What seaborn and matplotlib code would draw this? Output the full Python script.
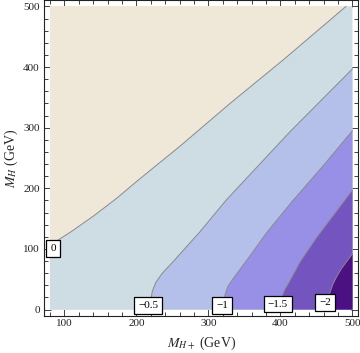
import matplotlib
matplotlib.use('Agg')
import matplotlib.pyplot as plt
from matplotlib.ticker import MultipleLocator
import seaborn as sns

# contour lines (M_H+ , M_H) in GeV
c0_x = [80, 110, 140, 172, 203, 261, 330, 404, 491]
c0_y = [106, 129, 154, 183, 214, 270, 340, 412, 500]
c05_x = [219, 220, 222, 227, 236, 251, 288, 325, 358, 413, 500]
c05_y = [0, 15, 30, 45, 60, 79, 128, 181, 223, 293, 397]
c1_x = [320, 321, 323, 327, 335, 345, 358, 381, 416, 460, 500]
c1_y = [0, 12, 24, 38, 52, 68, 89, 127, 178, 238, 295]
c15_x = [400, 401, 402, 406, 411, 418, 427, 451, 500]
c15_y = [0, 12, 21, 33, 43, 58, 78, 120, 197]
c2_x = [465, 466, 469, 473, 478, 485, 500]
c2_y = [0, 12, 29, 42, 54, 68, 92]

levels = ['0', '\u22120.5', '\u22121', '\u22121.5', '\u22122']
label_x = [84, 216, 319, 396, 462]
label_y = [101, 7, 7, 9, 11]

region_colors = ['#EFE7D7', '#CEDCE4', '#B4C0E9', '#9890E6', '#7455BF', '#4B1082']

sns.set_theme(style='ticks')
plt.rcParams['font.family'] = ['Liberation Serif', 'DejaVu Serif']
plt.rcParams['mathtext.fontset'] = 'stix'

fig = plt.figure(figsize=(3.6, 3.53), dpi=100)
ax = fig.add_axes([0.1222, 0.106, 0.8736, 0.8929])

xmin, xmax, ymin, ymax = 80, 500, 0, 500

# background: positive region
ax.fill([xmin, xmax, xmax, xmin], [ymin, ymin, ymax, ymax], color=region_colors[0], lw=0)
# region below the 0 contour
ax.fill(c0_x + [xmax, xmax, xmin], c0_y + [ymax, ymin, ymin], color=region_colors[1], lw=0)
curves = [(c05_x, c05_y), (c1_x, c1_y), (c15_x, c15_y), (c2_x, c2_y)]
for (cx, cy), col in zip(curves, region_colors[2:]):
    ax.fill(cx + [xmax], cy + [ymin], color=col, lw=0)

for cx, cy in [(c0_x, c0_y)] + curves:
    sns.lineplot(x=cx, y=cy, sort=False, estimator=None, color='#8a8a8a', lw=0.7, ax=ax)

for t, lx, ly in zip(levels, label_x, label_y):
    ax.text(lx, ly, t, fontsize=8, ha='center', va='center', color='black',
            bbox=dict(boxstyle='square,pad=0.35', fc='white', ec='black', lw=0.9), zorder=5)

ax.set_xlim(71.6, 508.4)
ax.set_ylim(-10, 510)
ax.xaxis.set_major_locator(MultipleLocator(100))
ax.xaxis.set_minor_locator(MultipleLocator(20))
ax.yaxis.set_major_locator(MultipleLocator(100))
ax.yaxis.set_minor_locator(MultipleLocator(20))
ax.tick_params(which='both', direction='in', top=True, right=True, width=0.6,
               labelsize=8, colors='#222222')
ax.tick_params(which='major', length=5)
ax.tick_params(which='minor', length=3)
ax.tick_params(axis='x', pad=2.5)
ax.tick_params(axis='y', pad=3)
for s in ax.spines.values():
    s.set_linewidth(0.8)
    s.set_color('#222222')

ax.set_xlabel(r'$M_{H+}$ (GeV)', fontsize=10)
ax.set_ylabel(r'$M_{H}$ (GeV)', fontsize=10)
ax.xaxis.set_label_coords(0.5, -0.06)
ax.yaxis.set_label_coords(-0.075, 0.5)

fig.savefig('out.png', dpi=100)
